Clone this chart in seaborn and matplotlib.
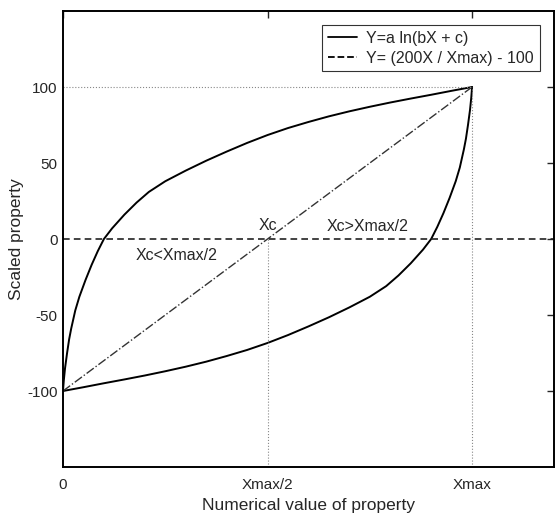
import matplotlib
matplotlib.use("Agg")
import matplotlib.pyplot as plt
from matplotlib.lines import Line2D
import seaborn as sns
import pandas as pd

# x values are fractions of Xmax, y values are the scaled property
x_upper = [0, 0.002, 0.005, 0.01, 0.015, 0.02, 0.03, 0.04, 0.055, 0.07,
           0.085, 0.1, 0.12, 0.15, 0.18, 0.21, 0.25, 0.3, 0.35, 0.4,
           0.45, 0.5, 0.55, 0.6, 0.65, 0.7, 0.75, 0.8, 0.85, 0.9, 0.95, 1.0]
y_upper = [-100, -93, -85, -75, -66, -59, -47, -38, -27, -17,
           -8, 0, 7, 16, 24, 31, 38, 45, 51.5, 57.5,
           63.2, 68.4, 73, 77, 80.7, 84, 87, 89.8, 92.4, 94.9, 97.5, 100]

x_lower = [0, 0.05, 0.1, 0.15, 0.2, 0.25, 0.3, 0.35, 0.4, 0.45,
           0.5, 0.55, 0.6, 0.65, 0.7, 0.75, 0.79, 0.82, 0.85, 0.88,
           0.9, 0.915, 0.93, 0.945, 0.96, 0.97, 0.98, 0.985, 0.99, 0.995,
           0.998, 1.0]
y_lower = [-100, -97.5, -94.9, -92.4, -89.8, -87, -84, -80.7, -77, -73,
           -68.4, -63.2, -57.5, -51.5, -45, -38, -31, -24, -16, -7,
           0, 8, 17, 27, 38, 47, 59, 66, 75, 85,
           93, 100]

x_linear = [0, 1.0]
y_linear = [-100, 100]

x_ticks = [0, 0.5, 1.0]
x_ticklabels = ["0", "Xmax/2", "Xmax"]
y_ticks = [-100, -50, 0, 50, 100]
legend_labels = ["Y=a ln(bX + c)", "Y= (200X / Xmax) - 100"]

sns.set_style("white")
plt.rcParams["font.family"] = ["Liberation Sans", "DejaVu Sans"]
plt.rcParams["font.size"] = 11
plt.rcParams["axes.unicode_minus"] = False

fig = plt.figure(figsize=(5.55, 5.17), dpi=100)
ax = fig.add_axes([0.1135, 0.0967, 0.8845, 0.882])

upper = pd.DataFrame({"x": x_upper, "y": y_upper})
lower = pd.DataFrame({"x": x_lower, "y": y_lower})
linear = pd.DataFrame({"x": x_linear, "y": y_linear})

sns.lineplot(data=upper, x="x", y="y", ax=ax, color="black", lw=1.4, estimator=None)
sns.lineplot(data=lower, x="x", y="y", ax=ax, color="black", lw=1.4, estimator=None)
sns.lineplot(data=linear, x="x", y="y", ax=ax, color="#333333", lw=1.0,
             linestyle="-.", estimator=None)

# reference lines
ax.axhline(0, color="#222222", lw=1.2, linestyle=(0, (4, 2.5)))
ax.plot([0, 1.0], [100, 100], color="#888888", lw=0.8, linestyle=":")
ax.plot([1.0, 1.0], [-150, 100], color="#888888", lw=0.8, linestyle=":")
ax.plot([0.5, 0.5], [-150, 0], color="#888888", lw=0.8, linestyle=":")

ax.text(0.5, 9, "Xc", ha="center", va="center", fontsize=11.5)
ax.text(0.278, -11, "Xc<Xmax/2", ha="center", va="center", fontsize=11.5)
ax.text(0.744, 8.5, "Xc>Xmax/2", ha="center", va="center", fontsize=11.5)

ax.set_xlim(0, 1.2)
ax.set_ylim(-150, 150)
ax.set_xticks(x_ticks)
ax.set_xticklabels(x_ticklabels)
ax.set_yticks(y_ticks)
ax.set_xlabel("Numerical value of property", fontsize=12.5, labelpad=4)
ax.set_ylabel("Scaled property", fontsize=12.5, labelpad=2)
ax.tick_params(direction="in", length=5, width=1, top=True, right=True,
               labelsize=11)
ax.tick_params(axis="x", pad=8)
ax.tick_params(axis="y", pad=4)
for s in ax.spines.values():
    s.set_linewidth(1.4)
    s.set_color("black")

handles = [Line2D([], [], color="black", lw=1.3),
           Line2D([], [], color="black", lw=1.3, linestyle="--")]
leg = ax.legend(handles, legend_labels, loc="upper right", fontsize=11.5,
                frameon=True, fancybox=False, borderaxespad=0.9,
                handlelength=1.8, handletextpad=0.6, borderpad=0.35,
                labelspacing=0.3)
leg.get_frame().set_edgecolor("black")
leg.get_frame().set_linewidth(0.8)

fig.savefig("out.png", dpi=100)
